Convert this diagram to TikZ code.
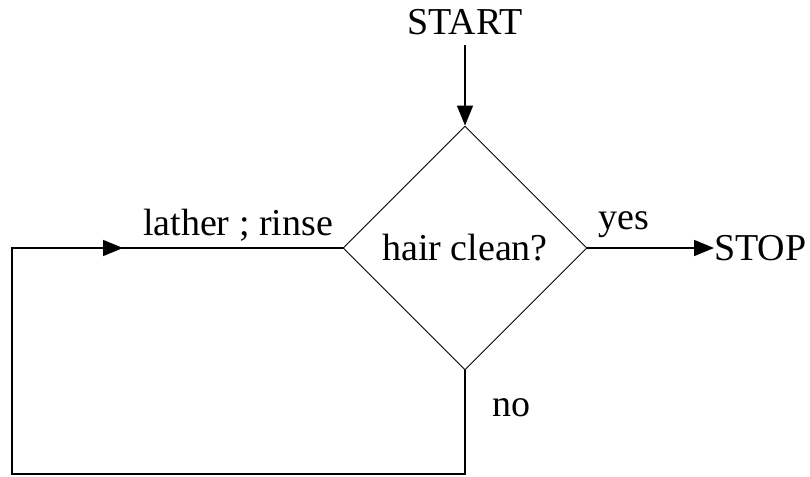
\documentclass[tikz,border=0pt]{standalone}
\usepackage{fontspec}
\setmainfont{Liberation Serif}
\usetikzlibrary{shapes.geometric,arrows.meta}
\tikzset{
  conn/.style={line width=1.6pt},
  arr/.style={conn,-{Triangle[length=20pt,width=16pt]}},
  lbl/.style={inner sep=0pt,anchor=base,font=\fontsize{38}{44}\selectfont},
  decision/.style={draw,shape=diamond,line width=0.9pt,minimum width=244pt,minimum height=244pt,inner sep=0pt,font=\fontsize{38}{44}\selectfont}
}
\begin{document}
\begin{tikzpicture}[x=1pt,y=-1pt]
\useasboundingbox (0,0) rectangle (810,476);
\node[decision] (d) at (465,248) {hair clean?};
\node[lbl] (start) at (465,35) {START};
\coordinate (starte) at (465,45);
\node[lbl,anchor=base west] (stop) at (714,260) {STOP};
\node[lbl] (yes) at (624,229) {yes};
\node[lbl] (lr) at (238,235) {lather ; rinse};
\node[lbl,anchor=base west] (no) at (492,416) {no};
\coordinate (c1) at (465,474);
\coordinate (c2) at (12,474);
\coordinate (c3) at (12,248);
\coordinate (c4) at (123,248);
\draw[arr] (starte) -- (d.north);
\draw[arr] (d.east) -- (stop.west |- d.east);
\draw[conn,line join=miter] (d.south) -- (c1) -- (c2) -- (c3) -- (c4);
\draw[arr] (c3) -- (c4);
\draw[conn] (c4) -- (d.west);
\end{tikzpicture}
\end{document}
